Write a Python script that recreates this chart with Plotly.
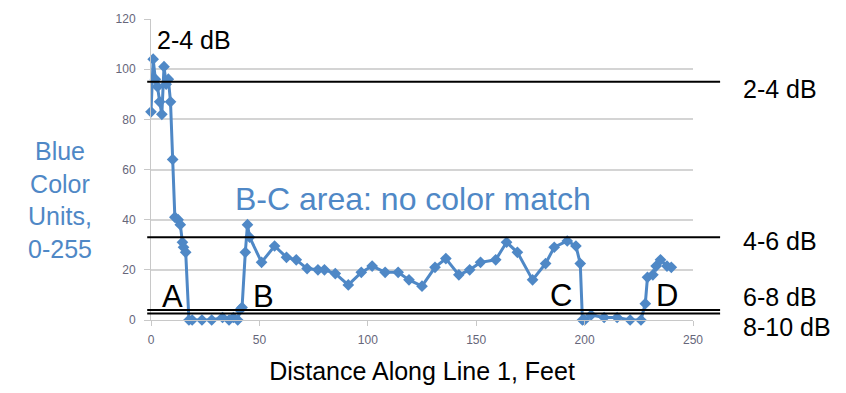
import plotly.graph_objects as go

# Blue colour reading along survey line 1
distance_ft = [0, 1, 2, 3, 4, 5, 6, 7, 8, 9, 10, 11, 12.5, 13.5, 14.5, 15, 16,
               17.5, 19, 23.5, 28, 33, 36, 38, 40, 41, 42, 43.5, 44.5, 45.5,
               51, 57, 62.5, 67, 72, 77, 80, 85, 91, 97, 102, 108, 114, 119,
               125, 131, 136, 142, 147, 152, 159, 164, 169, 176, 182, 186,
               192, 196, 198, 199, 200, 203, 209, 215, 221, 226, 228, 229,
               231.5, 233, 235, 238, 240]
blue_units = [83, 104, 96, 93, 87, 82, 101, 94, 96, 87, 64, 41, 40, 38, 31, 29, 27,
              0, 0, 0, 0, 1, 0, 1, 0, 4, 5, 27, 38, 33,
              23, 29.5, 25, 24, 20.5, 20, 20, 18.5, 14, 19, 21.5, 19, 19, 16,
              13.5, 21, 24.5, 18, 20, 23, 24, 31, 27, 16, 22.5, 29,
              31.5, 29.5, 22.5, 0, 0, 2, 1, 1, 0, 0, 6.5, 17,
              18, 21.5, 24, 21.5, 21]

# Attenuation thresholds (blue units) and their labels
threshold_values = [95, 33, 4, 2.6]
threshold_labels = ["2-4 dB", "4-6 dB", "6-8 dB", "8-10 dB"]
threshold_label_pos = [0.769, 0.264, 0.077, -0.024]

# Segment markers along the line
point_names = ["A", "B", "C", "D"]
point_x = [9.7, 52, 189, 238]
point_y = [9.5, 9.5, 9.8, 9.8]

x_ticks = [0, 50, 100, 150, 200, 250]
y_ticks = [0, 20, 40, 60, 80, 100, 120]

blue = "#4f88c6"
tick_color = "#66667a"
font_family = "Liberation Sans, Arial, sans-serif"
label_size = 25

fig = go.Figure()
fig.add_trace(go.Scatter(
    x=distance_ft, y=blue_units, mode="lines+markers",
    line=dict(color=blue, width=3),
    marker=dict(symbol="diamond", size=9, color=blue),
    cliponaxis=False, showlegend=False,
))

shapes = []
for v in threshold_values:
    shapes.append(dict(type="line", xref="paper", yref="y",
                       x0=-0.007, x1=1.05, y0=v, y1=v,
                       line=dict(color="black", width=2)))

annotations = []
for lab, ly in zip(threshold_labels, threshold_label_pos):
    annotations.append(dict(text=lab, xref="paper", yref="paper", x=1.09, y=ly,
                            xanchor="left", yanchor="middle", showarrow=False,
                            borderpad=0,
                            font=dict(size=label_size, color="black",
                                      family=font_family)))
annotations.append(dict(text="2-4 dB", xref="x", yref="y", x=1.8, y=111.5,
                        xanchor="left", yanchor="middle", showarrow=False,
                        font=dict(size=label_size, color="black",
                                  family=font_family)))
for name, px, py in zip(point_names, point_x, point_y):
    annotations.append(dict(text=name, xref="x", yref="y", x=px, y=py,
                            xanchor="center", yanchor="middle", showarrow=False,
                            font=dict(size=31, color="black", family=font_family)))
annotations.append(dict(text="B-C area: no color match", xref="x", yref="y",
                        x=120.8, y=48.3, xanchor="center", yanchor="middle",
                        showarrow=False,
                        font=dict(size=32, color=blue, family=font_family)))
annotations.append(dict(text="Blue<br>Color<br>Units,<br>0-255", xref="paper",
                        yref="paper", x=-0.168, y=0.40, xanchor="center",
                        yanchor="middle", showarrow=False, align="center",
                        font=dict(size=25, color=blue, family=font_family)))

fig.update_layout(
    width=846, height=393,
    margin=dict(l=151, r=153, t=17, b=73),
    paper_bgcolor="white", plot_bgcolor="white",
    font=dict(family=font_family),
    shapes=shapes, annotations=annotations,
    xaxis=dict(range=[0, 250], tickvals=x_ticks, showgrid=False,
               showline=True, linecolor="#c8c8c8", linewidth=1,
               ticks="outside", ticklen=5, tickcolor="#c8c8c8",
               ticklabelstandoff=4,
               tickfont=dict(size=12, color=tick_color), zeroline=False,
               title=dict(text="Distance Along Line 1, Feet", standoff=16,
                          font=dict(size=label_size, color="black"))),
    yaxis=dict(range=[0, 120], tickvals=y_ticks, showgrid=True,
               gridcolor="#d4d4d4", gridwidth=1.5,
               showline=True, linecolor="#c8c8c8", linewidth=1,
               ticks="outside", ticklen=6, tickcolor="#c8c8c8",
               ticklabelstandoff=6,
               tickfont=dict(size=12, color=tick_color), zeroline=False),
)

fig.write_html("out.html")
